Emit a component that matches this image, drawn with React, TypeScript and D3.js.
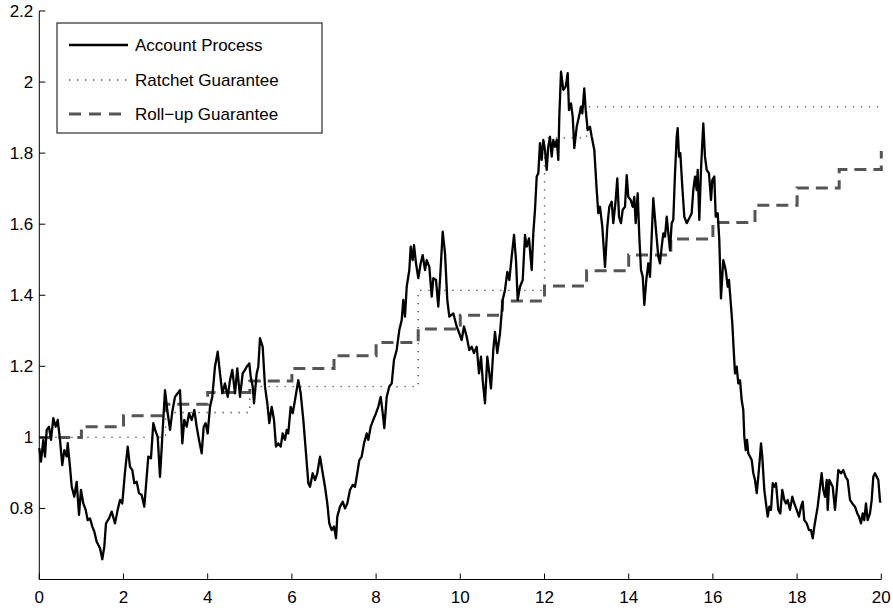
import React from "react";
import * as d3 from "d3";

const accountT = [0,0.04,0.095,0.135,0.176,0.23,0.278,0.333,0.39,0.437,0.492,0.546,0.594,0.651,0.675,0.729,0.77,0.831,0.888,0.943,0.99,1.045,1.102,1.15,1.204,1.259,1.306,1.363,1.442,1.496,1.544,1.584,1.656,1.72,1.798,1.862,1.917,1.971,2.036,2.1,2.154,2.209,2.257,2.314,2.368,2.432,2.494,2.551,2.589,2.653,2.708,2.765,2.812,2.867,2.922,2.986,3.04,3.105,3.159,3.223,3.287,3.342,3.397,3.444,3.501,3.556,3.62,3.682,3.739,3.793,3.857,3.905,3.952,4.0,4.055,4.109,4.173,4.238,4.292,4.347,4.411,4.475,4.53,4.584,4.649,4.703,4.767,4.831,4.886,4.926,4.988,5.021,5.069,5.1,5.164,5.202,5.242,5.306,5.361,5.416,5.463,5.52,5.575,5.622,5.677,5.734,5.781,5.836,5.876,5.914,5.971,6.019,6.074,6.152,6.209,6.271,6.335,6.39,6.43,6.494,6.549,6.603,6.668,6.732,6.786,6.841,6.888,6.945,7.0,7.048,7.078,7.143,7.207,7.261,7.316,7.38,7.444,7.499,7.553,7.601,7.658,7.713,7.777,7.815,7.872,7.933,7.998,8.052,8.109,8.157,8.195,8.252,8.314,8.371,8.425,8.489,8.551,8.608,8.646,8.686,8.727,8.789,8.822,8.869,8.9,8.948,9.002,9.059,9.107,9.162,9.202,9.264,9.321,9.359,9.423,9.477,9.518,9.582,9.637,9.691,9.739,9.834,9.914,9.976,10.033,10.088,10.152,10.214,10.271,10.325,10.39,10.444,10.492,10.532,10.587,10.641,10.689,10.729,10.784,10.824,10.879,10.943,11.007,11.062,11.116,11.164,11.221,11.276,11.323,11.363,11.418,11.482,11.537,11.577,11.632,11.696,11.734,11.774,11.815,11.853,11.893,11.933,11.971,12.012,12.052,12.09,12.131,12.171,12.209,12.249,12.29,12.328,12.352,12.392,12.447,12.504,12.551,12.582,12.629,12.67,12.708,12.765,12.819,12.867,12.898,12.945,12.979,13.026,13.081,13.121,13.183,13.24,13.278,13.318,13.373,13.437,13.492,13.539,13.596,13.634,13.691,13.729,13.77,13.817,13.857,13.912,13.953,13.99,14.048,14.095,14.133,14.166,14.214,14.252,14.292,14.333,14.371,14.418,14.466,14.506,14.546,14.584,14.641,14.703,14.743,14.784,14.822,14.862,14.903,14.941,14.981,15.021,15.059,15.1,15.14,15.164,15.195,15.226,15.273,15.321,15.378,15.416,15.456,15.496,15.534,15.575,15.615,15.639,15.677,15.717,15.772,15.812,15.853,15.907,15.955,15.986,16.033,16.067,16.114,16.152,16.192,16.247,16.304,16.352,16.382,16.413,16.461,16.494,16.525,16.565,16.603,16.644,16.684,16.722,16.746,16.779,16.81,16.841,16.881,16.922,16.96,17.0,17.041,17.078,17.119,17.143,17.173,17.221,17.261,17.302,17.34,17.38,17.421,17.458,17.499,17.553,17.601,17.648,17.696,17.736,17.777,17.831,17.886,17.933,17.99,18.045,18.093,18.133,18.171,18.228,18.283,18.33,18.371,18.409,18.449,18.489,18.527,18.584,18.622,18.663,18.703,18.727,18.765,18.805,18.846,18.9,18.941,18.979,19.043,19.097,19.154,19.202,19.257,19.311,19.375,19.43,19.47,19.518,19.558,19.596,19.636,19.677,19.731,19.772,19.81,19.85,19.891,19.929,19.97,20.0];

const accountV = [0.97,0.932,0.993,0.946,1.021,1.03,0.993,1.054,1.03,1.049,0.993,0.922,0.964,0.946,0.984,0.917,0.861,0.833,0.875,0.782,0.852,0.814,0.796,0.767,0.772,0.749,0.735,0.706,0.688,0.657,0.692,0.758,0.772,0.791,0.758,0.796,0.824,0.814,0.903,0.974,0.917,0.908,0.871,0.875,0.843,0.838,0.805,0.889,0.946,0.941,1.04,1.016,1.002,0.889,1.002,1.133,1.077,1.021,1.072,1.114,1.124,1.133,0.983,1.049,1.03,1.068,1.049,1.077,1.03,0.993,0.955,1.03,1.04,1.011,1.086,1.114,1.199,1.241,1.18,1.124,1.152,1.114,1.161,1.19,1.124,1.194,1.114,1.18,1.19,1.199,1.208,1.171,1.143,1.096,1.18,1.199,1.279,1.255,1.143,1.096,1.04,1.086,1.049,0.974,0.983,0.974,1.011,0.993,1.021,1.011,1.086,1.068,1.105,1.161,1.124,1.049,0.955,0.871,0.861,0.899,0.88,0.899,0.946,0.899,0.861,0.814,0.758,0.739,0.749,0.716,0.777,0.805,0.819,0.8,0.814,0.852,0.866,0.861,0.899,0.936,0.946,0.983,1.011,0.993,1.03,1.049,1.068,1.086,1.114,1.068,1.026,1.114,1.143,1.152,1.218,1.246,1.302,1.33,1.387,1.34,1.424,1.471,1.537,1.499,1.541,1.49,1.448,1.49,1.513,1.471,1.499,1.48,1.396,1.448,1.443,1.368,1.443,1.579,1.518,1.387,1.34,1.349,1.312,1.293,1.274,1.312,1.283,1.246,1.255,1.237,1.255,1.18,1.227,1.161,1.096,1.227,1.18,1.138,1.246,1.297,1.237,1.293,1.387,1.415,1.466,1.443,1.509,1.57,1.499,1.387,1.424,1.443,1.57,1.537,1.56,1.471,1.574,1.64,1.734,1.743,1.828,1.781,1.837,1.809,1.753,1.818,1.846,1.79,1.837,1.818,1.837,1.781,1.903,2.029,1.978,1.987,2.025,1.921,1.94,1.903,1.814,1.874,1.903,1.931,1.912,1.982,1.921,1.865,1.874,1.846,1.809,1.696,1.631,1.649,1.593,1.48,1.593,1.649,1.663,1.603,1.668,1.729,1.621,1.603,1.64,1.649,1.738,1.677,1.668,1.649,1.677,1.603,1.687,1.565,1.471,1.452,1.373,1.443,1.49,1.452,1.565,1.673,1.593,1.509,1.49,1.537,1.574,1.565,1.621,1.574,1.527,1.603,1.612,1.743,1.846,1.87,1.79,1.8,1.706,1.621,1.603,1.612,1.621,1.631,1.696,1.734,1.696,1.753,1.612,1.753,1.884,1.79,1.753,1.743,1.668,1.724,1.734,1.621,1.631,1.556,1.391,1.499,1.471,1.424,1.443,1.396,1.321,1.246,1.18,1.199,1.152,1.161,1.105,1.077,1.002,0.964,0.993,0.955,0.946,0.936,0.899,0.88,0.843,0.889,0.946,0.983,0.946,0.852,0.814,0.777,0.805,0.796,0.871,0.861,0.871,0.796,0.786,0.852,0.824,0.814,0.824,0.796,0.833,0.814,0.796,0.777,0.805,0.819,0.767,0.758,0.739,0.739,0.716,0.749,0.777,0.805,0.843,0.899,0.852,0.833,0.88,0.796,0.88,0.871,0.861,0.796,0.852,0.908,0.899,0.908,0.889,0.88,0.824,0.814,0.805,0.786,0.777,0.758,0.786,0.767,0.814,0.767,0.786,0.824,0.889,0.899,0.889,0.88,0.819,0.82];

const ratchetT = [0, 3, 5, 9, 12, 13, 20];
const ratchetV = [1.0, 1.07, 1.143, 1.414, 1.843, 1.93, 1.93];

const rollupT = [0,1,2,3,4,5,6,7,8,9,10,11,12,13,14,15,16,17,18,19,20];
const rollupV = [1.0,1.03,1.061,1.093,1.126,1.159,1.194,1.23,1.267,1.305,1.344,1.384,1.426,1.469,1.513,1.558,1.605,1.653,1.702,1.754,1.806];

const xTicks = [0,2,4,6,8,10,12,14,16,18,20];
const yTicks = [0.8,1,1.2,1.4,1.6,1.8,2,2.2];
const legendLabels = ["Account Process", "Ratchet Guarantee", "Roll\u2212up Guarantee"];

const W = 893, H = 610;
const FONT = "'Liberation Sans', Arial, Helvetica, sans-serif";

export default function App() {
  const x = d3.scaleLinear().domain([0, 20]).range([39.3, 881.3]);
  const y = d3.scaleLinear().domain([0.6, 2.2]).range([579.5, 11]);

  const lineAcc = d3.line<number>().x((d, i) => x(accountT[i])).y((d) => y(d));
  const lineRatchet = d3.line<number>().x((d, i) => x(ratchetT[i])).y((d) => y(d)).curve(d3.curveStepAfter);
  const lineRoll = d3.line<number>().x((d, i) => x(rollupT[i])).y((d) => y(d)).curve(d3.curveStepAfter);

  const x0 = x(0), yb = y(0.6), yt = y(2.2), xr = x(20);

  const legX = 57, legY = 23, legW = 265, legH = 110;
  const rows = [45, 80, 114];

  return (
    <svg width={W} height={H} style={{ position: "absolute", left: 0, top: 0, background: "#fff" }}>
      <rect x={0} y={0} width={W} height={H} fill="#fff" />
      <path d={lineRoll(rollupV) || ""} fill="none" stroke="#555" strokeWidth={3} strokeDasharray="12,7" />
      <path d={lineRatchet(ratchetV) || ""} fill="none" stroke="#444" strokeWidth={1.3} strokeDasharray="1.3,6.7" />
      <path d={lineAcc(accountV) || ""} fill="none" stroke="#000" strokeWidth={2.3} strokeLinejoin="round" />

      {/* axes */}
      <line x1={x0} x2={xr} y1={yb} y2={yb} stroke="#000" strokeWidth={1} />
      <line x1={x0} x2={x0} y1={yt} y2={yb} stroke="#000" strokeWidth={1} />
      {xTicks.map((t) => (
        <g key={"x" + t}>
          <line x1={x(t)} x2={x(t)} y1={yb} y2={yb - 6} stroke="#000" strokeWidth={1} />
          <text x={x(t)} y={yb + 23} textAnchor="middle" fontFamily={FONT} fontSize={17} fill="#000">{t}</text>
        </g>
      ))}
      {yTicks.map((v) => (
        <g key={"y" + v}>
          <line x1={x0} x2={x0 + 6} y1={y(v)} y2={y(v)} stroke="#000" strokeWidth={1} />
          <text x={x0 - 6} y={y(v) + 6} textAnchor="end" fontFamily={FONT} fontSize={17} fill="#000">{String(v)}</text>
        </g>
      ))}

      {/* legend */}
      <rect x={legX} y={legY} width={legW} height={legH} fill="#fff" stroke="#000" strokeWidth={1} />
      <line x1={69} x2={128} y1={rows[0]} y2={rows[0]} stroke="#000" strokeWidth={2.3} />
      <line x1={69} x2={128} y1={rows[1]} y2={rows[1]} stroke="#444" strokeWidth={1.3} strokeDasharray="1.3,6.7" />
      <line x1={69} x2={128} y1={rows[2]} y2={rows[2]} stroke="#555" strokeWidth={3} strokeDasharray="12,8" />
      {legendLabels.map((l, i) => (
        <text key={l} x={135} y={rows[i] + 6} fontFamily={FONT} fontSize={17} fill="#000">{l}</text>
      ))}
    </svg>
  );
}
